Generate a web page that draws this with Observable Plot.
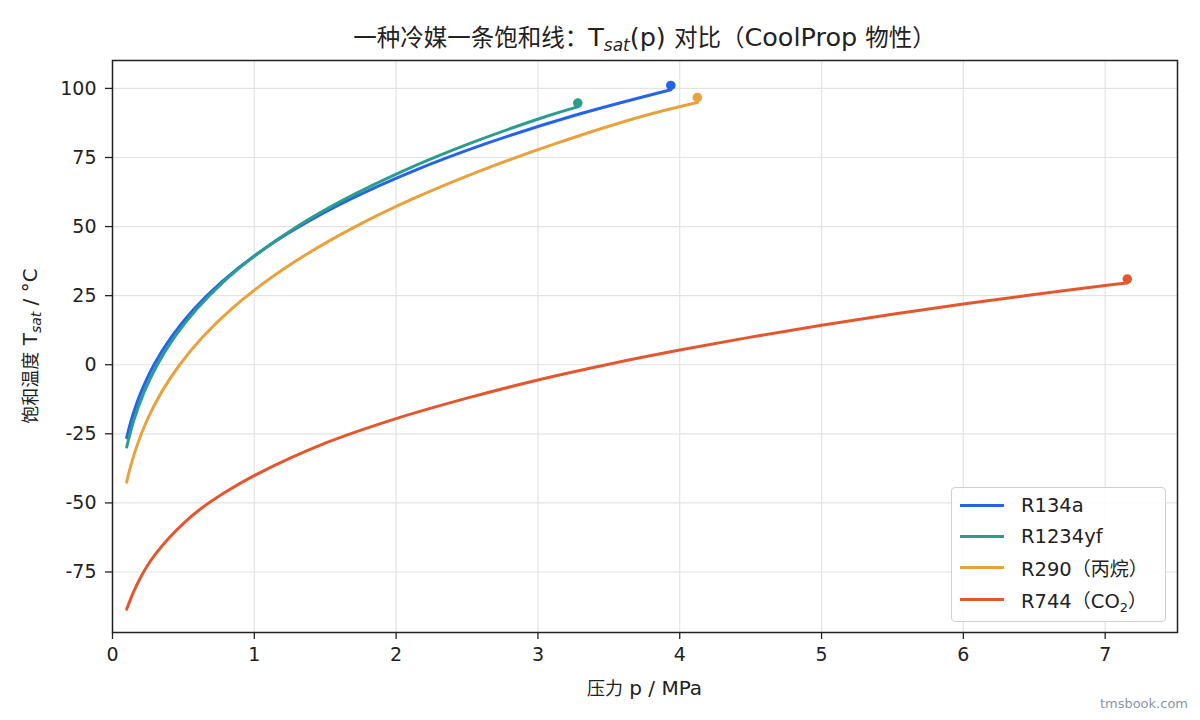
<!DOCTYPE html>
<html>
<head>
<meta charset="utf-8">
<script src="https://cdn.jsdelivr.net/npm/d3@7"></script>
<script src="https://cdn.jsdelivr.net/npm/@observablehq/plot@0.6"></script>
<style>
  html, body { margin: 0; padding: 0; background: #fff; }
  #wrap { position: relative; width: 1200px; height: 720px; font-family: "DejaVu Sans", "Noto Sans CJK SC", sans-serif; color: #222; background: #fff; }
  #title { position: absolute; z-index: 2; left: 112px; width: 1065px; top: 21px; text-align: center; font-size: 25.5px; line-height: 30px; white-space: nowrap; }
  #title .cjk { font-family: "Noto Sans CJK SC", sans-serif; font-size: 23.5px; }
  #title sub { font-size: 17px; vertical-align: -5px; line-height: 0; }
  #chart { position: absolute; z-index: 1; left: 0; top: 50px; }
  #legend { position: absolute; z-index: 3; left: 951px; top: 487px; width: 215px; height: 135px; border: 1px solid #d0d0d0; border-radius: 4px; background: rgba(255,255,255,0.85); box-sizing: border-box; }
  .row { position: absolute; left: 8px; height: 26px; display: flex; align-items: center; font-size: 19.5px; white-space: nowrap; }
  .row .cjk { font-family: "Noto Sans CJK SC", sans-serif; font-size: 19px; }
  .sw { width: 44px; height: 3px; margin-right: 17px; }
  .row sub { font-size: 13px; vertical-align: -4px; line-height: 0; }
  #wm { position: absolute; z-index: 3; right: 12px; top: 696px; font-size: 13px; color: #8a94a6; }
</style>
</head>
<body>
<div id="wrap">
  <div id="title"><span class="cjk">一种冷媒一条饱和线：</span>T<sub><i>sat</i></sub>(p) <span class="cjk">对比（</span>CoolProp <span class="cjk">物性）</span></div>
  <div id="chart"></div>
  <div id="legend"></div>
  <div id="wm">tmsbook.com</div>
</div>
<script>
// ---- data ----
const names = ["R134a", "R1234yf", "R290（丙烷）", "R744（CO2）"];
const colors = ["#2563eb", "#2a9d8f", "#e9a23b", "#e4572e"];

const pR134a = [0.1, 0.12, 0.15, 0.2006, 0.2928, 0.4146, 0.5717, 0.7702, 1.0166, 1.318, 1.681, 2.116, 2.633, 3.244, 3.937];
const tR134a = [-26.4, -22.3, -17.1, -10, 0, 10, 20, 30, 40, 50, 60, 70, 80, 90, 99.5];

const pR1234yf = [0.1, 0.151, 0.222, 0.316, 0.437, 0.591, 0.782, 1.018, 1.302, 1.642, 2.044, 2.516, 3.067, 3.281];
const tR1234yf = [-29.8, -20, -10, 0, 10, 20, 30, 40, 50, 60, 70, 80, 90, 93.3];

const pR290 = [0.1, 0.111, 0.168, 0.244, 0.345, 0.474, 0.636, 0.836, 1.078, 1.369, 1.713, 2.116, 2.584, 3.124, 3.743, 4.124];
const tR290 = [-42.5, -40, -30, -20, -10, 0, 10, 20, 30, 40, 50, 60, 70, 80, 90, 94.9];

const pR744 = [0.1, 0.15, 0.2, 0.25, 0.3, 0.4, 0.518, 0.6, 0.8, 1.0, 1.5, 2.0, 2.5, 3.0, 3.5, 4.0, 4.5, 5.0, 5.5, 6.0, 6.5, 7.0, 7.156];
const tR744 = [-88.5, -82.0, -76.8, -72.4, -68.7, -62.6, -56.6, -53.0, -46.0, -40.1, -28.4, -19.5, -12.1, -5.5, 0.2, 5.3, 10.0, 14.3, 18.3, 22.0, 25.4, 28.7, 29.6];

// critical-point markers
const critP = [3.937, 3.281, 4.124, 7.156];
const critT = [101.06, 94.7, 96.7, 31.0];

const xTicks = [0, 1, 2, 3, 4, 5, 6, 7];
const yTicks = [-75, -50, -25, 0, 25, 50, 75, 100];

// ---- tables ----
const series = [[pR134a, tR134a], [pR1234yf, tR1234yf], [pR290, tR290], [pR744, tR744]];
const rows = series.flatMap(([ps, ts], i) => ps.map((p, j) => ({name: names[i], p, t: ts[j]})));
const crit = names.map((name, i) => ({name, p: critP[i], t: critT[i]}));

const LATIN = "'DejaVu Sans', 'Noto Sans CJK SC', sans-serif";
const CJK = "'Noto Sans CJK SC', sans-serif";
const chart = Plot.plot({
  width: 1200,
  height: 670,
  marginTop: 10,
  marginRight: 23,
  marginBottom: 88,
  marginLeft: 112,
  style: {fontFamily: LATIN, fontSize: "19px", background: "transparent", color: "#222", overflow: "visible"},
  x: {domain: [0, 7.51]},
  y: {domain: [-96.9, 110.1]},
  color: {domain: names, range: colors},
  marks: [
    Plot.gridX(xTicks, {stroke: "#e3e3e3", strokeOpacity: 1, strokeWidth: 1.2}),
    Plot.gridY(yTicks, {stroke: "#e3e3e3", strokeOpacity: 1, strokeWidth: 1.2}),
    Plot.line(rows, {x: "p", y: "t", z: "name", stroke: "name", strokeWidth: 3, curve: "catmull-rom"}),
    Plot.dot(crit, {x: "p", y: "t", fill: "name", r: 4.8}),
    Plot.frame({stroke: "#222", strokeWidth: 1.5}),
    Plot.axisX(xTicks, {tickSize: 7, tickPadding: 8, label: null, tickFormat: d => String(d), stroke: "#222", strokeWidth: 1.3}),
    Plot.axisY(yTicks, {tickSize: 7, tickPadding: 9, label: null, tickFormat: d => String(d), stroke: "#222", strokeWidth: 1.3})
  ]
});
document.getElementById("chart").appendChild(chart);

// axis labels (CJK + Latin, with subscript)
const svg = d3.select(chart);
const xl = svg.append("text")
  .attr("x", (112 + 1177) / 2).attr("y", 645)
  .attr("text-anchor", "middle").attr("font-family", LATIN).attr("font-size", 20).attr("fill", "#222");
xl.append("tspan").attr("font-family", CJK).attr("font-size", 18).text("压力");
xl.append("tspan").text(" p / MPa");

const yl = svg.append("text")
  .attr("transform", `translate(37, ${(10 + 582) / 2}) rotate(-90)`)
  .attr("text-anchor", "middle").attr("font-family", LATIN).attr("font-size", 20).attr("fill", "#222");
yl.append("tspan").attr("font-family", CJK).attr("font-size", 18).text("饱和温度");
yl.append("tspan").text(" T");
yl.append("tspan").attr("font-size", 14).attr("font-style", "italic").attr("dy", 4).text("sat");
yl.append("tspan").attr("dy", -4).text(" / °C");

// legend
const legend = document.getElementById("legend");
const labelsHtml = ["R134a", "R1234yf", "R290<span class=\"cjk\">（丙烷）</span>", "R744<span class=\"cjk\">（</span>CO<sub>2</sub><span class=\"cjk\">）</span>"];
const rowTops = [4, 35, 66, 98];
names.forEach((n, i) => {
  const r = document.createElement("div");
  r.className = "row";
  r.style.top = rowTops[i] + "px";
  r.innerHTML = `<span class="sw" style="background:${colors[i]}"></span><span>${labelsHtml[i]}</span>`;
  legend.appendChild(r);
});
</script>
</body>
</html>
